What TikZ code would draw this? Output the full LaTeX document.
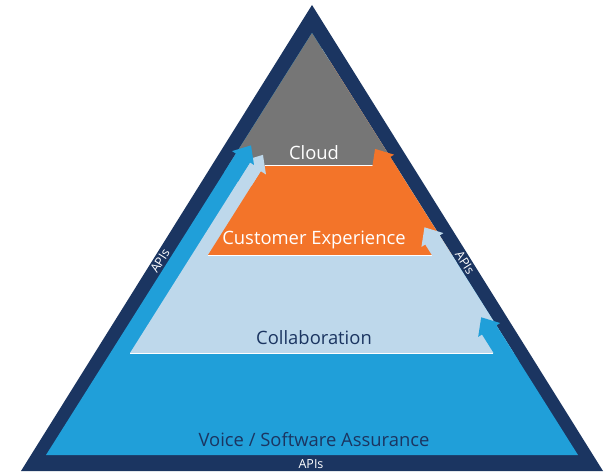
\documentclass[tikz,border=0pt]{standalone}
\usepackage{fontspec}
\setmainfont{Open Sans}
\usepackage{tikz}
\usetikzlibrary{calc}

\definecolor{apinavy}{HTML}{1B3561}
\definecolor{voiceblue}{HTML}{209FD9}
\definecolor{collabblue}{HTML}{BED8EB}
\definecolor{cxorange}{HTML}{F37429}
\definecolor{cloudgray}{HTML}{767676}

\tikzset{
  layertext/.style={font=\fontsize{18.4}{18.4}\selectfont, inner sep=0pt},
  apitext/.style={font=\fontsize{12.5}{12.5}\selectfont, text=white, inner sep=0pt},
  sepline/.style={white, line width=0.7pt},
}

% strip with arrow head: x, y, angle, length, half width, colour
\newcommand{\upstrip}[6]{%
  \begin{scope}[shift={(#1,#2)}, rotate=#3]
    \fill[#6] (-6,-#5) -- (#4,-#5) -- (#4,-13) -- (#4+15,0) -- (#4,13) -- (#4,#5) -- (-6,#5) -- cycle;
  \end{scope}}

\begin{document}
\begin{tikzpicture}[x=1pt, y=1pt]
    \useasboundingbox (0,0) rectangle (609,472);

    % APIs frame
    \fill[apinavy] (21,1) -- (603,1) -- (312,467) -- cycle;

    % Voice / Software Assurance
    \fill[voiceblue] (46,17) -- (578,17) -- (312,439) -- cycle;

    % Collaboration
    \fill[collabblue] (130,119) -- (513.7,119) -- (321.9,423.4) -- cycle;

    % Customer Experience
    \fill[cxorange] (208,217) -- (451.9,217) -- (330,410.5) -- cycle;

    % Cloud
    \fill[cloudgray] (228.8,307) -- (395.2,307) -- (312,439) -- cycle;

    % separators
    \draw[sepline] (130,119) -- (493,119);
    \draw[sepline] (208,217) -- (432,217);
    \draw[sepline] (265,307) -- (373,307);

    % arrows on the right
    \upstrip{508.1}{112}{122.22}{35.5}{8.5}{voiceblue}
    \upstrip{446.3}{210}{122.22}{26}{8.5}{collabblue}
    \upstrip{389.6}{300}{122.22}{12.3}{8.5}{cxorange}

    % arrows on the left
    \upstrip{249}{295}{57.78}{11.2}{6.85}{collabblue}
    \upstrip{234.2}{300}{57.78}{16.5}{8.33}{voiceblue}

    % labels
    \node[layertext, text=white] (cloud) at (314,319) {Cloud};
    \node[layertext, text=white] (cx) at (314,232) {Customer Experience};
    \node[layertext, text=apinavy] (collab) at (314,134) {Collaboration};
    \node[layertext, text=apinavy] (voice) at (314,32) {Voice / Software Assurance};

    \node[apitext] (apibottom) at (311,8) {APIs};
    \node[apitext, rotate=57.78] (apileft) at (160,211) {APIs};
    \node[apitext, rotate=-57.78] (apiright) at (465,209) {APIs};
\end{tikzpicture}
\end{document}
